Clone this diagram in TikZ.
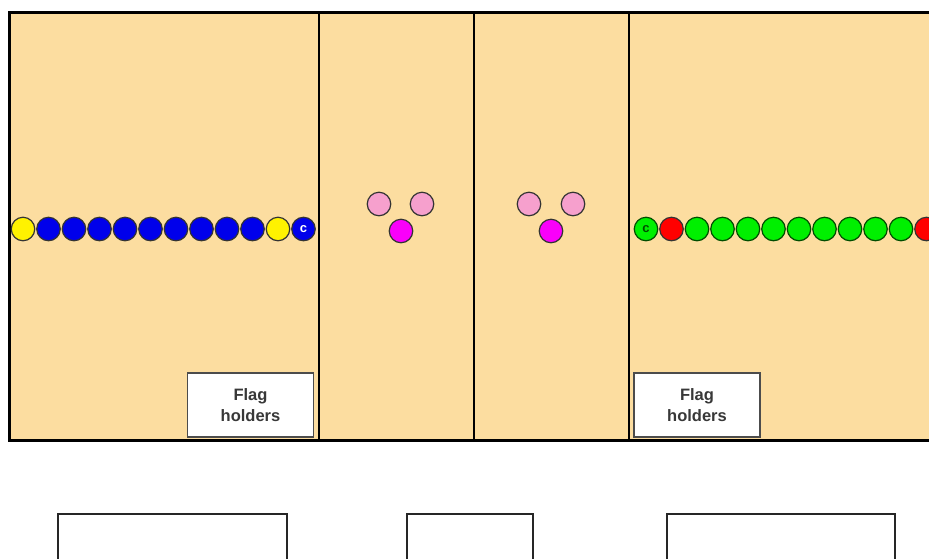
\documentclass[tikz,border=0pt]{standalone}
\usepackage{fontspec}
\setmainfont{Liberation Sans}
\definecolor{court}{RGB}{252,221,160}
\definecolor{pinkball}{RGB}{246,160,205}
\definecolor{magball}{RGB}{250,0,250}
\definecolor{blueball}{RGB}{0,0,235}
\definecolor{greenball}{RGB}{0,240,0}
\tikzset{
  ball/.style={circle, draw=black!80, line width=1.2pt, minimum size=23.5pt, inner sep=0pt},
  flagbox/.style={draw=black!70, fill=white, line width=1.2pt, minimum width=126pt, minimum height=64pt,
    align=center, font=\fontsize{16.5}{21}\selectfont\bfseries, text=black!78},
  benchbox/.style={draw=black!85, fill=white, line width=1.5pt}
}
\begin{document}
\begin{tikzpicture}[x=1pt,y=-1pt]
\useasboundingbox (0,0) rectangle (929,558);
% court and zones
\fill[court] (9,12) rectangle (940,440);
\draw[black, line width=3pt] (940,12) -- (9,12) -- (9,440) -- (940,440);
\draw[black, line width=2.5pt] (319,12) -- (319,440);
\draw[black, line width=2.5pt] (474,12) -- (474,440);
\draw[black, line width=2.5pt] (629,12) -- (629,440);
% blue team
\node[ball, fill=yellow] (b1) at (23,229) {};
\node[ball, fill=blueball] (b2) at (48.5,229) {};
\node[ball, fill=blueball] (b3) at (74,229) {};
\node[ball, fill=blueball] (b4) at (99.5,229) {};
\node[ball, fill=blueball] (b5) at (125,229) {};
\node[ball, fill=blueball] (b6) at (150.5,229) {};
\node[ball, fill=blueball] (b7) at (176,229) {};
\node[ball, fill=blueball] (b8) at (201.5,229) {};
\node[ball, fill=blueball] (b9) at (227,229) {};
\node[ball, fill=blueball] (b10) at (252.5,229) {};
\node[ball, fill=yellow] (b11) at (278,229) {};
\node[ball, fill=blueball, text=white, font=\fontsize{13}{13}\selectfont\bfseries] (bc) at (303.5,229) {c};
% middle zones
\node[ball, fill=pinkball] (p1) at (379,204) {};
\node[ball, fill=pinkball] (p2) at (422,204) {};
\node[ball, fill=magball] (p3) at (401,231) {};
\node[ball, fill=pinkball] (q1) at (529,204) {};
\node[ball, fill=pinkball] (q2) at (573,204) {};
\node[ball, fill=magball] (q3) at (551,231) {};
% green team
\node[ball, fill=greenball, draw=black!70!green, text=black!70!green, font=\fontsize{13}{13}\selectfont\bfseries] (gc) at (646,229) {c};
\node[ball, fill=red] (g1) at (671.5,229) {};
\node[ball, fill=greenball, draw=black!70!green] (g2) at (697,229) {};
\node[ball, fill=greenball, draw=black!70!green] (g3) at (722.5,229) {};
\node[ball, fill=greenball, draw=black!70!green] (g4) at (748,229) {};
\node[ball, fill=greenball, draw=black!70!green] (g5) at (773.5,229) {};
\node[ball, fill=greenball, draw=black!70!green] (g6) at (799,229) {};
\node[ball, fill=greenball, draw=black!70!green] (g7) at (824.5,229) {};
\node[ball, fill=greenball, draw=black!70!green] (g8) at (850,229) {};
\node[ball, fill=greenball, draw=black!70!green] (g9) at (875.5,229) {};
\node[ball, fill=greenball, draw=black!70!green] (g10) at (901,229) {};
\node[ball, fill=red] (g11) at (926.5,229) {};
% flag holders
\node[flagbox] (flagL) at (250.5,405) {Flag\\holders};
\node[flagbox] (flagR) at (697,405) {Flag\\holders};
% benches
\draw[benchbox] (58,514) rectangle (287,570);
\draw[benchbox] (407,514) rectangle (533,570);
\draw[benchbox] (667,514) rectangle (895,570);
\end{tikzpicture}
\end{document}
